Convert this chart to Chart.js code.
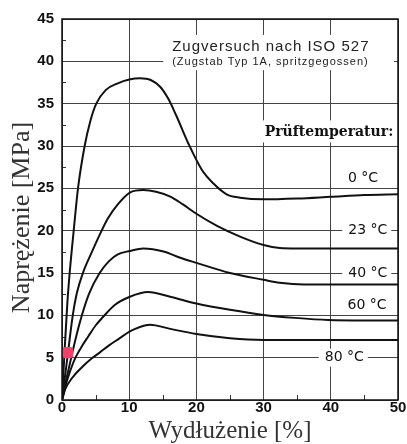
<!DOCTYPE html>
<html>
<head>
<meta charset="utf-8">
<script src="https://cdn.jsdelivr.net/npm/chart.js@4"></script>
<style>
  html, body { margin: 0; padding: 0; background: #fff; }
  canvas { display: block; }
</style>
</head>
<body>
<canvas id="chart" width="407" height="444"></canvas>
<script>
// curves: strain [%] / stress [MPa]
const strain0 = [0, 0.4, 0.8, 1.14, 1.74, 2.38, 3.37, 4.2, 5.1, 6.5, 8.3, 10, 11.6, 13.2, 14.6, 15.8, 17, 18.8, 20.8, 22.5, 24.5, 26.5, 30, 35, 40, 45, 50];
const stress0 = [0, 6, 11.5, 15, 20, 25, 30, 32.9, 35, 36.6, 37.4, 37.85, 38, 37.8, 37, 35.6, 33.6, 30.3, 27.2, 25.6, 24.3, 23.9, 23.7, 23.8, 24.0, 24.2, 24.3];

const strain23 = [0, 0.8, 1.6, 2.2, 3.2, 4.4, 5.6, 6.8, 8.3, 10.1, 12.1, 14, 16.2, 18, 20, 23, 26.5, 30, 32.4, 35, 40, 50];
const stress23 = [0, 5, 10, 12.6, 15.2, 17.4, 19.5, 21.4, 23.1, 24.5, 24.8, 24.6, 24.0, 23.1, 22.0, 20.6, 19.3, 18.3, 17.95, 17.9, 17.9, 17.9];

const strain40 = [0, 0.8, 1.6, 2.6, 4, 5.6, 7, 8.3, 10.1, 12.1, 15.1, 17.6, 20, 25, 30, 32.4, 36, 40, 50];
const stress40 = [0, 3, 5.8, 9, 12.5, 15, 16.4, 17.2, 17.6, 17.9, 17.55, 16.8, 16.2, 15, 14.2, 13.85, 13.65, 13.65, 13.65];

const strain60 = [0, 0.5, 1.2, 2.0, 3.0, 3.9, 5, 6.1, 7.8, 10.1, 12.8, 16.1, 20, 25, 30, 34.7, 39.6, 45, 50];
const stress60 = [0, 1.6, 3.4, 5, 6.4, 7.5, 8.8, 9.8, 11.2, 12.2, 12.75, 12.2, 11.4, 10.65, 10.05, 9.7, 9.45, 9.4, 9.4];

const strain80 = [0, 0.5, 1.5, 3, 4.4, 5.6, 7, 8.5, 10.1, 11.5, 13.1, 16.1, 20, 25, 30, 40, 50];
const stress80 = [0, 1.3, 2.6, 3.9, 4.9, 5.6, 6.45, 7.25, 8.1, 8.6, 8.9, 8.4, 7.8, 7.3, 7.1, 7.1, 7.1];

const markerStrain = [0.85];
const markerStress = [5.6];

const xTicks = [0, 10, 20, 30, 40, 50];
const yTicks = [0, 5, 10, 15, 20, 25, 30, 35, 40, 45];
const xMinor = [5, 15, 25, 35, 45];
const yMinor = [2.5, 7.5, 12.5, 17.5, 22.5, 27.5, 32.5, 37.5, 42.5];

const tempLabels = ['0 °C', '23 °C', '40 °C', '60 °C', '80 °C'];
const tempLabelX = [44.8, 45.5, 45.5, 45.4, 42];
const tempLabelY = [26.2, 20, 15, 11.2, 5];
const tempLabelBox = [false, true, true, true, true];

const titleText = 'Zugversuch nach ISO 527';
const subtitleText = '(Zugstab Typ 1A, spritzgegossen)';
const legendTitle = 'Prüftemperatur:';

function toPoints(xs, ys) {
  return xs.map((x, i) => ({ x: x, y: ys[i] }));
}

function curve(xs, ys) {
  return {
    type: 'line',
    data: toPoints(xs, ys),
    borderColor: '#111',
    borderWidth: 2,
    pointRadius: 0,
    cubicInterpolationMode: 'monotone',
    fill: false
  };
}

const annotations = {
  id: 'annotations',
  beforeDatasetsDraw(chart) {
    const { ctx, chartArea: a, scales: { x, y } } = chart;
    ctx.save();

    // inner minor ticks
    ctx.strokeStyle = '#333';
    ctx.lineWidth = 1;
    xMinor.forEach(v => {
      const px = Math.round(x.getPixelForValue(v)) + 0.5;
      ctx.beginPath(); ctx.moveTo(px, a.bottom); ctx.lineTo(px, a.bottom - 5); ctx.stroke();
    });
    yMinor.forEach(v => {
      const py = Math.round(y.getPixelForValue(v)) + 0.5;
      ctx.beginPath(); ctx.moveTo(a.left, py); ctx.lineTo(a.left + 4, py); ctx.stroke();
    });

    // title block
    const tx = x.getPixelForValue(16.4);
    const ty = y.getPixelForValue(41.7);
    const sy = y.getPixelForValue(39.9);
    ctx.fillStyle = '#fff';
    ctx.fillRect(tx - 9, ty - 12, a.right - 4 - (tx - 9), sy + 8 - (ty - 12));
    ctx.fillStyle = '#222';
    ctx.textAlign = 'left';
    ctx.textBaseline = 'middle';
    ctx.letterSpacing = '1px';
    ctx.font = '15px "Liberation Sans", Arial, sans-serif';
    ctx.fillText(titleText, tx, ty);
    ctx.font = '11px "Liberation Sans", Arial, sans-serif';
    ctx.fillText(subtitleText, tx, sy);
    ctx.letterSpacing = '0px';

    // legend heading
    ctx.font = 'bold 14px "DejaVu Serif", serif';
    const lx = x.getPixelForValue(49.3);
    const ly = y.getPixelForValue(31.6);
    const lw = ctx.measureText(legendTitle).width;
    ctx.fillStyle = '#fff';
    ctx.fillRect(lx - lw - 6, ly - 12, lw + 10, 22);
    ctx.fillStyle = '#111';
    ctx.textAlign = 'right';
    ctx.fillText(legendTitle, lx, ly);

    // temperature labels
    ctx.font = '14px "DejaVu Sans", sans-serif';
    ctx.textAlign = 'center';
    tempLabels.forEach((t, i) => {
      const px = x.getPixelForValue(tempLabelX[i]);
      const py = y.getPixelForValue(tempLabelY[i]);
      const w = ctx.measureText(t).width;
      if (tempLabelBox[i]) {
        ctx.fillStyle = '#fff';
        ctx.fillRect(px - w / 2 - 6, py - 9, w + 10, 18);
      }
      ctx.fillStyle = '#111';
      ctx.fillText(t, px, py);
    });

    // y axis title
    ctx.save();
    ctx.translate(22, (a.top + a.bottom) / 2 + 8);
    ctx.rotate(-Math.PI / 2);
    ctx.font = '26px "Liberation Serif", "Times New Roman", serif';
    ctx.fillStyle = '#333';
    ctx.textAlign = 'center';
    ctx.textBaseline = 'middle';
    ctx.fillText('Naprężenie [MPa]', 0, 0);
    ctx.restore();

    ctx.restore();
  },
  afterDatasetsDraw(chart) {
    const { ctx, chartArea: a } = chart;
    ctx.save();
    ctx.strokeStyle = '#111';
    ctx.lineWidth = 1.5;
    ctx.strokeRect(a.left, a.top, a.right - a.left, a.bottom - a.top);
    ctx.restore();
  }
};

new Chart(document.getElementById('chart'), {
  type: 'line',
  data: {
    datasets: [
      curve(strain0, stress0),
      curve(strain23, stress23),
      curve(strain40, stress40),
      curve(strain60, stress60),
      curve(strain80, stress80),
      {
        type: 'scatter',
        order: -1,
        data: toPoints(markerStrain, markerStress),
        pointStyle: 'rectRounded',
        pointRadius: 6.5,
        backgroundColor: '#f2416b',
        borderWidth: 0
      }
    ]
  },
  options: {
    responsive: false,
    animation: false,
    devicePixelRatio: 1,
    layout: { padding: { top: 19, right: 9, left: 0, bottom: 0 } },
    plugins: { legend: { display: false }, tooltip: { enabled: false } },
    scales: {
      x: {
        type: 'linear',
        min: 0,
        max: 50,
        afterBuildTicks: s => { s.ticks = xTicks.map(v => ({ value: v })); },
        afterFit: s => { s.height = 44; s.paddingLeft = 0; s.paddingRight = 0; },
        grid: { color: '#444', lineWidth: 1, drawTicks: false },
        border: { display: false },
        ticks: {
          padding: 0,
          color: '#111',
          font: { family: '"Liberation Sans", Arial, sans-serif', size: 15, weight: 'bold', lineHeight: 1 }
        },
        title: {
          display: true,
          text: 'Wydłużenie [%]',
          color: '#333',
          padding: { top: 0, bottom: 0 },
          font: { family: '"Liberation Serif", "Times New Roman", serif', size: 25, lineHeight: 1 }
        }
      },
      y: {
        type: 'linear',
        min: 0,
        max: 45,
        afterBuildTicks: s => { s.ticks = yTicks.map(v => ({ value: v })); },
        afterFit: s => { s.width = 62; s.paddingTop = 0; s.paddingBottom = 0; },
        grid: { color: '#444', lineWidth: 1, drawTicks: false },
        border: { display: false },
        ticks: {
          padding: 8,
          color: '#111',
          font: { family: '"Liberation Sans", Arial, sans-serif', size: 15, weight: 'bold' }
        }
      }
    }
  },
  plugins: [annotations]
});
</script>
</body>
</html>
